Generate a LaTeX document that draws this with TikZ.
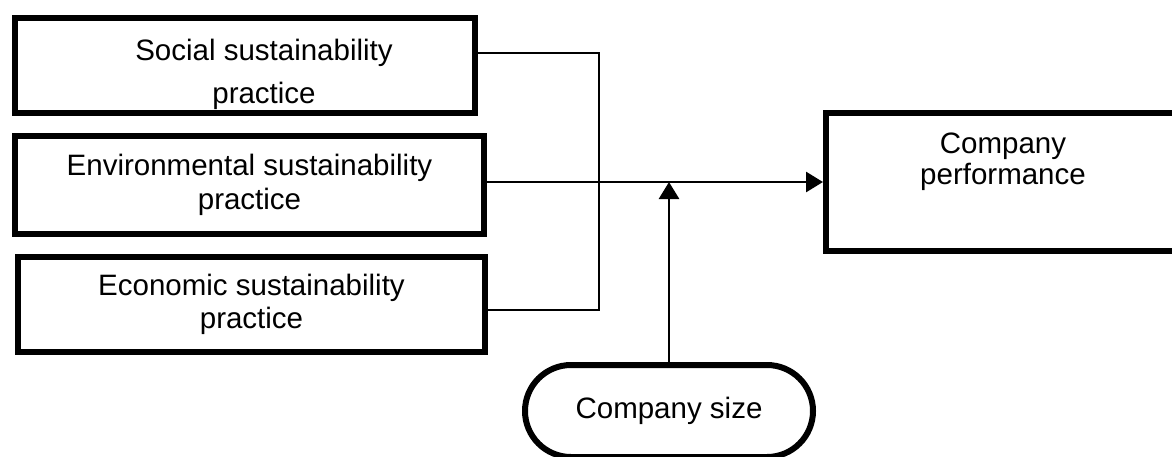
\documentclass[tikz,border=0pt]{standalone}
\usepackage{fontspec}
\setmainfont{Liberation Sans}
\usetikzlibrary{arrows.meta}

\begin{document}
\begin{tikzpicture}[x=1pt, y=-1pt,
        every node/.style={font=\fontsize{29.5}{34}\selectfont},
        box/.style={draw, line width=6pt, align=center, inner sep=0pt},
        pill/.style={draw, line width=6pt, rounded corners=46pt, inner sep=0pt},
        link/.style={line width=2.8pt},
        arr/.style={link, -{Triangle[length=17pt, width=20pt]}}]
    \useasboundingbox (0,0) rectangle (1172,456);

    % practices on the left
    \node[box, minimum width=460pt, minimum height=95pt] (social) at (245,65.5) {};
    \node[align=center, inner sep=0pt] (socialtext) at (264,74) {Social sustainability\\[9pt]practice};
    \node[box, minimum width=469pt, minimum height=98pt] (env) at (249.5,185) {Environmental sustainability\\practice};
    \node[box, minimum width=467pt, minimum height=95pt] (econ) at (251.5,304.5) {Economic sustainability\\[-1pt]practice};

    % outcome and moderator
    \node[box, minimum width=354pt, minimum height=138pt] (perf) at (1003,182) {};
    \node[align=center, inner sep=0pt] (perftext) at (1003,162) {Company\\[-3pt]performance};
    \node[pill, minimum width=288pt, minimum height=92pt] (size) at (669,411) {Company size};

    \coordinate (bustop) at (599,53);
    \coordinate (busbot) at (599,310);

    \draw[link] (social.east |- bustop) -- (bustop) -- (busbot) -- (econ.east |- busbot);
    \draw[arr] (env.east |- perf.west) -- (perf.west);
    \draw[arr] (size.north) -- (size.north |- perf.west);
\end{tikzpicture}
\end{document}
